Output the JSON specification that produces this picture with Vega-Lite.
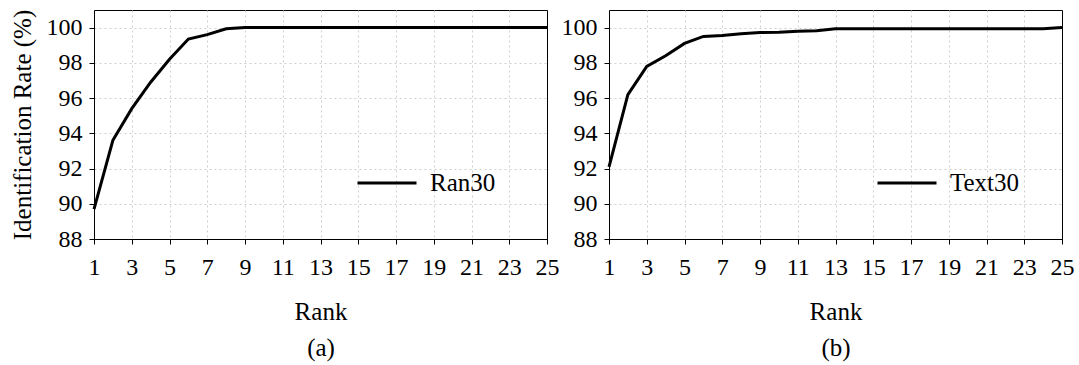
{
  "$schema": "https://vega.github.io/schema/vega-lite/v6.json",
  "background": "white",
  "padding": {"left": 9, "top": 8, "right": 5, "bottom": 5},
  "datasets": {
    "ran30": [
      {"series": "Ran30", "rank": 1, "rate": 89.7},
      {"series": "Ran30", "rank": 2, "rate": 93.6},
      {"series": "Ran30", "rank": 3, "rate": 95.4},
      {"series": "Ran30", "rank": 4, "rate": 96.9},
      {"series": "Ran30", "rank": 5, "rate": 98.2},
      {"series": "Ran30", "rank": 6, "rate": 99.35},
      {"series": "Ran30", "rank": 7, "rate": 99.6},
      {"series": "Ran30", "rank": 8, "rate": 99.93},
      {"series": "Ran30", "rank": 9, "rate": 100},
      {"series": "Ran30", "rank": 10, "rate": 100},
      {"series": "Ran30", "rank": 11, "rate": 100},
      {"series": "Ran30", "rank": 12, "rate": 100},
      {"series": "Ran30", "rank": 13, "rate": 100},
      {"series": "Ran30", "rank": 14, "rate": 100},
      {"series": "Ran30", "rank": 15, "rate": 100},
      {"series": "Ran30", "rank": 16, "rate": 100},
      {"series": "Ran30", "rank": 17, "rate": 100},
      {"series": "Ran30", "rank": 18, "rate": 100},
      {"series": "Ran30", "rank": 19, "rate": 100},
      {"series": "Ran30", "rank": 20, "rate": 100},
      {"series": "Ran30", "rank": 21, "rate": 100},
      {"series": "Ran30", "rank": 22, "rate": 100},
      {"series": "Ran30", "rank": 23, "rate": 100},
      {"series": "Ran30", "rank": 24, "rate": 100},
      {"series": "Ran30", "rank": 25, "rate": 100}
    ],
    "text30": [
      {"series": "Text30", "rank": 1, "rate": 92.1},
      {"series": "Text30", "rank": 2, "rate": 96.2},
      {"series": "Text30", "rank": 3, "rate": 97.8},
      {"series": "Text30", "rank": 4, "rate": 98.4},
      {"series": "Text30", "rank": 5, "rate": 99.1},
      {"series": "Text30", "rank": 6, "rate": 99.5},
      {"series": "Text30", "rank": 7, "rate": 99.55},
      {"series": "Text30", "rank": 8, "rate": 99.65},
      {"series": "Text30", "rank": 9, "rate": 99.72},
      {"series": "Text30", "rank": 10, "rate": 99.74},
      {"series": "Text30", "rank": 11, "rate": 99.8},
      {"series": "Text30", "rank": 12, "rate": 99.82},
      {"series": "Text30", "rank": 13, "rate": 99.93},
      {"series": "Text30", "rank": 14, "rate": 99.93},
      {"series": "Text30", "rank": 15, "rate": 99.93},
      {"series": "Text30", "rank": 16, "rate": 99.93},
      {"series": "Text30", "rank": 17, "rate": 99.93},
      {"series": "Text30", "rank": 18, "rate": 99.93},
      {"series": "Text30", "rank": 19, "rate": 99.93},
      {"series": "Text30", "rank": 20, "rate": 99.93},
      {"series": "Text30", "rank": 21, "rate": 99.93},
      {"series": "Text30", "rank": 22, "rate": 99.93},
      {"series": "Text30", "rank": 23, "rate": 99.93},
      {"series": "Text30", "rank": 24, "rate": 99.93},
      {"series": "Text30", "rank": 25, "rate": 100}
    ]
  },
  "config": {
    "font": "Liberation Serif",
    "view": {"stroke": "black", "strokeWidth": 1},
    "axis": {
      "domainColor": "black",
      "tickColor": "black",
      "tickSize": 5,
      "labelFont": "Liberation Serif",
      "labelFontSize": 24,
      "labelColor": "black",
      "titleFont": "Liberation Serif",
      "titleFontSize": 25,
      "titleFontWeight": "normal",
      "titleColor": "black",
      "gridColor": "#cfcfcf",
      "gridDash": [2, 3],
      "gridWidth": 1
    },
    "axisX": {
      "gridOpacity": {"condition": {"test": "datum.value === 25", "value": 0}, "value": 1}
    },
    "axisY": {
      "gridOpacity": {"condition": {"test": "datum.value === 88", "value": 0}, "value": 1}
    },
    "legend": {
      "labelFont": "Liberation Serif",
      "labelFontSize": 25,
      "labelColor": "black"
    }
  },
  "hconcat": [
    {
      "width": 453,
      "height": 229,
      "data": {"name": "ran30"},
      "mark": {"type": "line", "strokeWidth": 3, "strokeJoin": "miter"},
      "encoding": {
        "x": {
          "field": "rank",
          "type": "quantitative",
          "scale": {"domain": [1, 25], "nice": false, "zero": false},
          "axis": {
            "values": [1, 3, 5, 7, 9, 11, 13, 15, 17, 19, 21, 23, 25],
            "labelPadding": 11,
            "labelFlush": false,
            "title": ["Rank", "(a)"],
            "titleLineHeight": 36,
            "titlePadding": 20
          }
        },
        "y": {
          "field": "rate",
          "type": "quantitative",
          "scale": {"domain": [88, 101], "nice": false, "zero": false},
          "axis": {
            "values": [88, 90, 92, 94, 96, 98, 100],
            "labelPadding": 7,
            "title": "Identification Rate (%)",
            "titlePadding": 11
          }
        },
        "color": {
          "field": "series",
          "type": "nominal",
          "scale": {"range": ["black"]},
          "legend": {
            "title": null,
            "orient": "none",
            "legendX": 262,
            "legendY": 142,
            "symbolType": "stroke",
            "symbolSize": 3481,
            "symbolStrokeWidth": 3,
            "labelOffset": 12,
            "padding": 0
          }
        }
      }
    },
    {
      "width": 453,
      "height": 229,
      "data": {"name": "text30"},
      "mark": {"type": "line", "strokeWidth": 3, "strokeJoin": "miter"},
      "encoding": {
        "x": {
          "field": "rank",
          "type": "quantitative",
          "scale": {"domain": [1, 25], "nice": false, "zero": false},
          "axis": {
            "values": [1, 3, 5, 7, 9, 11, 13, 15, 17, 19, 21, 23, 25],
            "labelPadding": 11,
            "labelFlush": false,
            "title": ["Rank", "(b)"],
            "titleLineHeight": 36,
            "titlePadding": 20
          }
        },
        "y": {
          "field": "rate",
          "type": "quantitative",
          "scale": {"domain": [88, 101], "nice": false, "zero": false},
          "axis": {
            "values": [88, 90, 92, 94, 96, 98, 100],
            "labelPadding": 7,
            "title": null
          }
        },
        "color": {
          "field": "series",
          "type": "nominal",
          "scale": {"range": ["black"]},
          "legend": {
            "title": null,
            "orient": "none",
            "legendX": 267,
            "legendY": 142,
            "symbolType": "stroke",
            "symbolSize": 3481,
            "symbolStrokeWidth": 3,
            "labelOffset": 12,
            "padding": 0
          }
        }
      }
    }
  ],
  "spacing": 62,
  "bounds": "flush",
  "resolve": {"scale": {"color": "independent"}}
}
